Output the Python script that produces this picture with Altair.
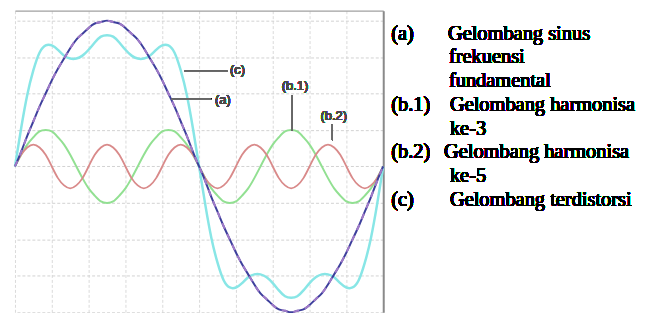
import altair as alt
import pandas as pd

# angle samples (degrees) over one fundamental period
deg = list(range(0, 361, 6))

# (a) fundamental sine
fund = [0, .10, .21, .31, .41, .50, .59, .67, .74, .81, .87, .91, .95, .98, .99, 1.00,
        .99, .98, .95, .91, .87, .81, .74, .67, .59, .50, .41, .31, .21, .10, 0,
        -.10, -.21, -.31, -.41, -.50, -.59, -.67, -.74, -.81, -.87, -.91, -.95, -.98, -.99, -1.00,
        -.99, -.98, -.95, -.91, -.87, -.81, -.74, -.67, -.59, -.50, -.41, -.31, -.21, -.10, 0]

# (b.1) 3rd harmonic
harm3 = [0, .08, .15, .20, .24, .25, .24, .20, .15, .08, 0, -.08, -.15, -.20, -.24, -.25, -.24, -.20, -.15, -.08,
         0, .08, .15, .20, .24, .25, .24, .20, .15, .08, 0, -.08, -.15, -.20, -.24, -.25, -.24, -.20, -.15, -.08,
         0, .08, .15, .20, .24, .25, .24, .20, .15, .08, 0, -.08, -.15, -.20, -.24, -.25, -.24, -.20, -.15, -.08, 0]

# (b.2) 5th harmonic
harm5 = [0, .08, .13, .15, .13, .08, 0, -.08, -.13, -.15, -.13, -.08,
         0, .08, .13, .15, .13, .08, 0, -.08, -.13, -.15, -.13, -.08,
         0, .08, .13, .15, .13, .08, 0, -.08, -.13, -.15, -.13, -.08,
         0, .08, .13, .15, .13, .08, 0, -.08, -.13, -.15, -.13, -.08,
         0, .08, .13, .15, .13, .08, 0, -.08, -.13, -.15, -.13, -.08, 0]

# (c) distorted wave
dist = [0, .26, .49, .66, .78, .83, .83, .80, .76, .74, .74, .76, .80, .85, .89, .90,
        .89, .85, .80, .76, .74, .74, .76, .80, .83, .83, .78, .66, .49, .26, 0,
        -.26, -.49, -.66, -.78, -.83, -.83, -.80, -.76, -.74, -.74, -.76, -.80, -.85, -.89, -.90,
        -.89, -.85, -.80, -.76, -.74, -.74, -.76, -.80, -.83, -.83, -.78, -.66, -.49, -.26, 0]

x_grid = [0, 36, 72, 108, 144, 180, 216, 252, 288, 324, 360]
y_grid = [-1, -0.75, -0.5, -0.25, 0, 0.25, 0.5, 0.75, 1]

legend_lines = [
    ("(a)", 393, 33), ("Gelombang sinus", 450, 33),
    ("frekuensi", 451, 57), ("fundamental", 451, 81),
    ("(b.1)", 393, 105), ("Gelombang harmonisa", 452, 105),
    ("ke-3", 452, 129),
    ("(b.2)", 393, 152), ("Gelombang harmonisa", 446, 152),
    ("ke-5", 452, 176),
    ("(c)", 393, 200), ("Gelombang terdistorsi", 452, 200),
]
plot_labels = [("(c)", 231, 70), ("(a)", 216, 100), ("(b.1)", 283, 86), ("(b.2)", 322, 116)]
leaders = [(185, 229, 71, 71), (172, 212, 99, 99), (293, 293, 95, 130), (334, 334, 124, 140)]

rows = []
for name, vals in [("fund", fund), ("h3", harm3), ("h5", harm5), ("dist", dist)]:
    for d, v in zip(deg, vals):
        rows.append({"series": name, "deg": d, "val": v})
df = pd.DataFrame(rows)

grid_dash = [3, 2]
base = alt.Chart(df).encode(
    x=alt.X("deg:Q", scale=alt.Scale(domain=[0, 360], nice=False, zero=False),
            axis=alt.Axis(orient="top", values=x_grid, labels=False, ticks=False, title=None,
                          domain=True, domainColor="#a0a0a0", domainWidth=1.2,
                          grid=True, gridColor="#dadada", gridDash=grid_dash, gridWidth=1)),
    y=alt.Y("val:Q", scale=alt.Scale(domain=[-1.0, 1.068], nice=False, zero=False),
            axis=alt.Axis(orient="right", values=y_grid, labels=False, ticks=False, title=None,
                          domain=True, domainColor="#8a8a8a", domainWidth=2,
                          grid=True, gridColor="#d2d2d2", gridDash=grid_dash, gridWidth=1)),
)

def series_line(name, color, width, dash=None):
    kw = dict(color=color, strokeWidth=width, interpolate="natural")
    if dash:
        kw["strokeDash"] = dash
    return base.transform_filter(alt.datum.series == name).mark_line(**kw)

layers = [
    series_line("h3", "#92e092", 2),
    series_line("h5", "#d98a8a", 1.8),
    series_line("dist", "#88e6e6", 2.5),
    series_line("fund", "#3d3f9c", 2.0),
    series_line("fund", "#a07ac8", 2.0, [6, 6]),
]

for x1, x2, y1, y2 in leaders:
    layers.append(alt.Chart(df).mark_rule(color="#6a6a6a", strokeWidth=1).encode(
        x=alt.value(x1 - 15), x2=alt.value(x2 - 15), y=alt.value(y1 - 10), y2=alt.value(y2 - 10)))

for txt, x, y in plot_labels:
    layers.append(alt.Chart(df).mark_text(text=txt, align="left", baseline="middle",
                                          font="Liberation Sans", fontSize=13, color="#4a4a4a").encode(
        x=alt.value(x - 15), y=alt.value(y - 10)))

for txt, x, y in legend_lines:
    layers.append(alt.Chart(df).mark_text(text=txt, align="left", baseline="middle",
                                          font="Liberation Serif", fontSize=20.5, fontWeight="normal",
                                          color="#000000").encode(
        x=alt.value(x - 15), y=alt.value(y - 10)))

chart = alt.layer(*layers).properties(
    width=370, height=303,
    autosize=alt.AutoSizeParams(type="none"),
    padding={"left": 7, "top": 2, "right": 262, "bottom": 0},
).configure_view(stroke=None)

chart.save("out.html", embed_options={"renderer": "svg", "actions": False})
